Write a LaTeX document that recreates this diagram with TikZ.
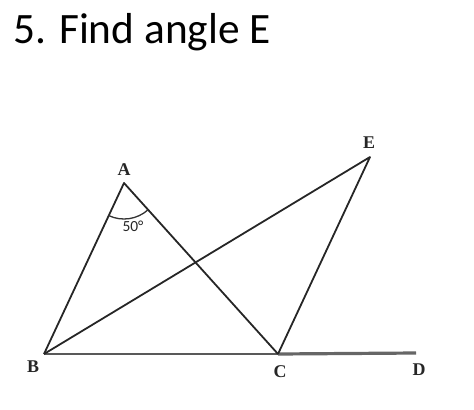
\documentclass[tikz,border=0pt]{standalone}
\usepackage{fontspec}
\usepackage{tikz}
\usetikzlibrary{positioning, calc}
\newfontfamily\titlefont{Carlito}
\newfontfamily\labelfont{Liberation Serif}
\newfontfamily\anglefont{Carlito}

\begin{document}
\begin{tikzpicture}[x=1bp,y=1bp,line join=round,
    side/.style={line width=1.8bp,black!85},
    base/.style={line width=2.2bp,black!65},
    ray/.style={line width=3.2bp,black!60},
    pt/.style={font=\labelfont\bfseries\fontsize{18}{18}\selectfont,inner sep=0pt,black!85}]

\useasboundingbox (0,0) rectangle (474,409);

\node[anchor=base west,inner sep=0pt,font=\titlefont\fontsize{43.5}{43.5}\selectfont] (title) at (13,366) {5. Find angle E};

\coordinate (A) at (124,226);
\coordinate (B) at (44,55);
\coordinate (C) at (278,55);
\coordinate (D) at (416,56);
\coordinate (E) at (370,252);

\node[pt] (lA) at (124,239) {A};
\node[pt] (lB) at (33,42)   {B};
\node[pt] (lC) at (280,37)  {C};
\node[pt] (lD) at (419,39)  {D};
\node[pt] (lE) at (369,266) {E};

\draw[ray]  (C) -- (D);
\draw[base] (B) -- (C);
\draw[side] (B) -- (A) -- (C);
\draw[side] (B) -- (E) -- (C);

% angle at A
\draw[line width=1.3bp,black!80] ([shift={(244.9:36)}]A) arc[start angle=244.9, end angle=312, radius=36];
\node[font=\anglefont\fontsize{15.5}{15.5}\selectfont,inner sep=0pt,black!85] (ang) at (133,183) {50°};
\end{tikzpicture}
\end{document}
